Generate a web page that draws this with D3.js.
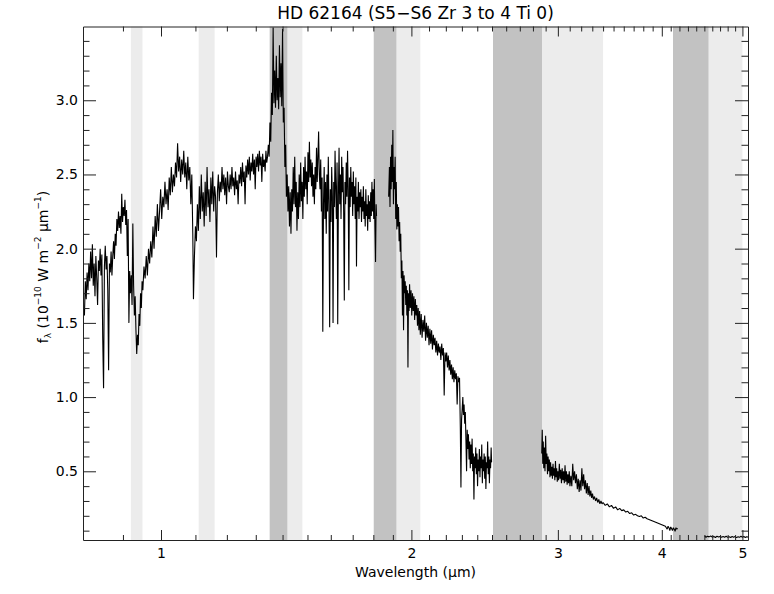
<!DOCTYPE html>
<html>
<head>
<meta charset="utf-8">
<script src="https://cdn.jsdelivr.net/npm/d3@7"></script>
<style>
  body { margin: 0; background: #fff; }
  svg { font-family: "DejaVu Sans", sans-serif; }
</style>
</head>
<body>
<svg id="chart" width="774" height="594"></svg>
<script>
// chart text and ticks
const title = "HD 62164 (S5\u2212S6 Zr 3 to 4 Ti 0)";
const xMajor = [1, 2, 3, 4, 5];
const xMinor = [0.9, 1.1, 1.2, 1.3, 1.4, 1.5, 1.6, 1.7, 1.8, 1.9,
  2.1, 2.2, 2.3, 2.4, 2.5, 2.6, 2.7, 2.8, 2.9,
  3.1, 3.2, 3.3, 3.4, 3.5, 3.6, 3.7, 3.8, 3.9,
  4.1, 4.2, 4.3, 4.4, 4.5, 4.6, 4.7, 4.8, 4.9];
const yMajor = [0.5, 1.0, 1.5, 2.0, 2.5, 3.0];
const yMinor = [0.1, 0.2, 0.3, 0.4, 0.6, 0.7, 0.8, 0.9, 1.1, 1.2, 1.3, 1.4,
  1.6, 1.7, 1.8, 1.9, 2.1, 2.2, 2.3, 2.4, 2.6, 2.7, 2.8, 2.9, 3.1, 3.2, 3.3, 3.4];

// telluric bands (microns)
const darkBands = [[1.351, 1.419], [1.802, 1.919], [2.507, 2.871], [4.126, 4.553]];
const lightBands = [[0.920, 0.950], [1.110, 1.160], [1.419, 1.479], [1.919, 2.050], [2.871, 3.400], [4.553, 5.000]];

// spectrum segments [wavelength um, flux 1e-10 W m-2 um-1]
const specIZJ = [
  [0.806,1.62],[0.809,1.55],[0.811,1.78],[0.813,1.66],[0.815,1.84],[0.817,1.72],[0.819,1.90],[0.821,1.78],
  [0.823,1.98],[0.825,1.80],[0.827,2.03],[0.829,1.75],[0.831,1.90],[0.833,1.68],[0.835,1.95],[0.837,1.80],
  [0.839,1.62],[0.841,1.92],[0.843,1.85],[0.845,2.00],[0.847,1.82],[0.849,1.96],[0.851,1.40],[0.853,1.06],
  [0.855,1.88],[0.857,2.02],[0.859,1.86],[0.861,1.95],[0.863,1.72],[0.865,1.18],[0.867,1.90],[0.869,1.84],
  [0.871,1.98],[0.873,1.82],[0.875,1.95],[0.877,2.05],[0.879,1.93],[0.881,2.10],[0.883,2.02],[0.885,2.20],
  [0.887,2.12],[0.889,2.25],[0.891,2.14],[0.893,2.22],[0.895,2.10],[0.897,2.37],[0.899,2.18],[0.901,2.28],
  [0.903,2.22],[0.905,2.33],[0.907,2.16],[0.909,2.26],[0.911,1.95],[0.913,2.20],[0.915,1.50],[0.917,1.85],
  [0.919,1.70],[0.921,1.82],[0.923,1.62],[0.925,2.17],[0.927,1.75],[0.929,1.55],[0.931,1.68],[0.933,1.45],
  [0.935,1.29],[0.937,1.42],[0.939,1.35],[0.941,1.56],[0.943,1.48],[0.945,1.70],[0.947,1.60],[0.949,1.78],
  [0.951,1.72],[0.954,1.88],[0.957,1.80],[0.960,1.95],[0.963,1.82],[0.966,2.00],[0.969,1.90],[0.972,2.05],
  [0.975,1.94],[0.978,2.15],[0.981,2.00],[0.984,2.22],[0.987,2.08],[0.990,2.30],[0.993,2.12],[0.996,2.25],
  [0.999,2.40],[1.002,2.20],[1.005,2.35],[1.008,2.28],[1.011,2.45],[1.014,2.30],[1.017,2.40],[1.020,2.26],
  [1.023,2.48],[1.026,2.36],[1.029,2.55],[1.032,2.38],[1.035,2.50],[1.038,2.42],[1.041,2.58],[1.044,2.48],
  [1.047,2.71],[1.050,2.52],[1.053,2.62],[1.056,2.45],[1.059,2.60],[1.062,2.50],[1.065,2.66],[1.068,2.48],
  [1.071,2.58],[1.074,2.40],[1.077,2.62],[1.080,2.46],[1.083,2.55],[1.086,2.30],[1.089,2.50],[1.092,2.10],
  [1.094,1.66],[1.097,1.95],[1.100,2.15],[1.103,2.05],[1.106,2.30],[1.109,2.12],[1.112,2.42],[1.115,2.20],
  [1.118,2.50],[1.121,2.25],[1.124,2.38],[1.127,2.15],[1.130,2.45],[1.133,2.22],[1.136,2.55],[1.139,2.28],
  [1.142,2.40],[1.145,2.18],[1.148,2.48],[1.151,2.30],[1.154,2.52],[1.157,2.25],[1.160,2.42],[1.163,2.35],
  [1.166,1.94],[1.169,2.38],[1.172,2.50],[1.175,2.32],[1.178,2.45],[1.181,2.38],[1.184,2.55],[1.187,2.40],
  [1.190,2.50],[1.193,2.36],[1.196,2.48],[1.199,2.30],[1.202,2.52],[1.205,2.42],[1.208,2.38],[1.211,2.50],
  [1.214,2.40],[1.217,2.55],[1.220,2.42],[1.223,2.48],[1.226,2.36],[1.229,2.52],[1.232,2.40],[1.235,2.46],
  [1.238,2.30],[1.241,2.50],[1.244,2.44],[1.247,2.55],[1.250,2.42],[1.253,2.58],[1.256,2.45],[1.259,2.52],
  [1.262,2.30],[1.265,2.56],[1.268,2.48],[1.271,2.60],[1.274,2.50],[1.277,2.62],[1.280,2.46],[1.283,2.58],
  [1.286,2.52],[1.289,2.64],[1.292,2.50],[1.295,2.60],[1.298,2.40],[1.301,2.62],[1.304,2.55],[1.307,2.64],
  [1.310,2.52],[1.313,2.66],[1.316,2.56],[1.319,2.62],[1.322,2.45],[1.325,2.64],[1.328,2.55],[1.331,2.60],
  [1.334,2.52],[1.337,2.66],[1.340,2.58],[1.343,2.62],
  [1.346,2.70],[1.349,2.62],[1.352,2.85],[1.355,2.72],[1.358,3.05],[1.361,2.90],[1.364,3.49],[1.367,2.98],
  [1.370,3.20],[1.373,2.95],[1.376,3.30],[1.379,3.00],[1.382,3.15],[1.385,2.94],[1.388,3.37],[1.391,3.02],
  [1.394,3.25],[1.397,2.96],[1.400,3.48],[1.403,2.85],[1.406,2.95],[1.409,2.55],[1.412,2.70],[1.415,2.35],
  [1.418,2.50],[1.421,2.25],[1.424,2.42],[1.427,2.15],[1.430,2.38],[1.433,2.10],[1.436,2.40],[1.439,2.25],
  [1.442,2.55],[1.445,2.30],[1.448,2.62],[1.451,2.28],[1.454,2.45],[1.457,2.12],[1.460,2.38],[1.463,2.20],
  [1.466,2.50],[1.469,2.28],[1.472,2.58],[1.475,2.32],[1.478,2.45],[1.481,2.20],[1.484,2.55],[1.487,2.35],
  [1.490,2.62],[1.493,2.40],[1.496,2.52],[1.499,2.30],[1.502,2.65],[1.505,2.45],[1.508,2.72],[1.511,2.48],
  [1.514,2.60],[1.517,2.42],[1.520,2.58],[1.523,2.35],[1.526,2.50],[1.529,2.30],[1.532,2.55],[1.535,2.40],
  [1.538,2.68],[1.541,2.45],[1.544,2.62],[1.547,2.79],[1.550,2.50],[1.553,2.40],[1.556,2.60],[1.559,2.25],
  [1.562,2.48],[1.565,1.44],[1.568,2.30],[1.571,2.55],[1.574,2.20],[1.577,2.45],[1.580,2.10],[1.583,2.50],
  [1.586,2.25],[1.589,2.62],[1.592,2.30],[1.595,1.47],[1.598,2.40],[1.601,2.18],[1.604,2.55],[1.607,2.35],
  [1.610,1.50],[1.613,2.45],[1.616,2.28],[1.619,2.66],[1.622,2.40],[1.625,2.20],[1.628,2.58],[1.631,1.49],
  [1.634,2.35],[1.637,2.68],[1.640,2.30],[1.643,2.50],[1.646,2.20],[1.649,2.62],[1.652,2.38],[1.655,2.55],
  [1.658,2.25],[1.661,1.65],[1.664,2.45],[1.667,2.30],[1.670,2.58],[1.673,2.35],[1.676,2.66],[1.679,2.40],
  [1.682,1.72],[1.685,2.48],[1.688,2.28],[1.691,2.55],[1.694,2.35],[1.697,2.45],[1.700,2.22],[1.703,2.52],
  [1.706,2.30],[1.709,2.42],[1.712,2.20],[1.715,2.48],[1.718,1.88],[1.721,2.35],[1.724,2.25],[1.727,2.45],
  [1.730,2.20],[1.733,2.38],[1.736,2.28],[1.739,2.40],[1.742,2.18],[1.745,2.35],[1.748,2.25],[1.751,2.42],
  [1.754,2.20],[1.757,2.32],[1.760,2.15],[1.763,2.40],[1.766,2.22],[1.769,2.30],[1.772,2.12],[1.775,2.36],
  [1.778,2.20],[1.781,2.32],[1.784,2.18],[1.787,2.38],[1.790,2.22],[1.793,2.45],[1.796,2.25],[1.799,2.40],
  [1.802,2.20],[1.805,2.47],[1.808,2.15],[1.811,1.91],[1.814,2.30],[1.816,2.22]
];

const specK = [
  [1.878,2.35],[1.882,2.55],[1.885,2.28],[1.888,2.62],[1.891,2.40],[1.894,2.70],[1.897,2.45],[1.900,2.80],
  [1.903,2.30],[1.906,2.55],[1.909,2.40],[1.912,2.62],[1.915,2.20],[1.918,2.45],[1.921,2.13],[1.924,2.30],
  [1.927,2.15],[1.930,2.28],[1.933,2.05],[1.936,2.18],[1.939,1.98],[1.942,2.10],[1.945,1.80],[1.948,1.92],
  [1.951,1.55],[1.954,1.85],[1.957,1.45],[1.960,1.82],[1.963,1.70],[1.966,1.78],[1.969,1.62],[1.972,1.75],
  [1.975,1.55],[1.978,1.72],[1.981,1.20],[1.984,1.70],[1.987,1.58],[1.990,1.76],[1.994,1.60],[1.998,1.72],
  [2.002,1.55],[2.006,1.70],[2.010,1.58],[2.014,1.68],[2.018,1.52],[2.022,1.66],[2.026,1.55],[2.030,1.62],
  [2.034,1.48],[2.038,1.60],[2.042,1.45],[2.046,1.58],[2.050,1.42],[2.055,1.56],[2.060,1.40],[2.065,1.52],
  [2.070,1.44],[2.075,1.55],[2.080,1.38],[2.085,1.50],[2.090,1.40],[2.095,1.48],[2.100,1.35],[2.105,1.46],
  [2.110,1.36],[2.115,1.45],[2.120,1.32],[2.125,1.42],[2.130,1.35],[2.135,1.40],[2.140,1.30],[2.145,1.38],
  [2.150,1.28],[2.155,1.36],[2.160,1.30],[2.165,1.34],[2.170,1.25],[2.175,1.36],[2.180,1.28],[2.185,1.33],
  [2.190,1.01],[2.195,1.30],[2.200,1.24],[2.205,1.30],[2.210,1.20],[2.215,1.28],[2.220,1.18],[2.225,1.25],
  [2.230,1.15],[2.235,1.22],[2.240,1.12],[2.245,1.20],[2.250,1.10],[2.255,1.18],[2.260,1.12],[2.265,1.16],
  [2.270,0.95],[2.275,1.14],[2.280,1.10],[2.285,1.13],[2.290,0.80],[2.294,0.39],[2.298,0.85],[2.302,0.92],
  [2.306,1.00],[2.310,0.88],[2.314,0.95],[2.318,0.82],[2.322,0.90],[2.326,0.70],[2.330,0.50],[2.334,0.78],
  [2.338,0.65],[2.342,0.75],[2.346,0.58],[2.350,0.70],[2.354,0.52],[2.358,0.68],[2.362,0.55],[2.366,0.72],
  [2.370,0.50],[2.374,0.62],[2.378,0.31],[2.382,0.60],[2.386,0.52],[2.390,0.66],[2.394,0.48],[2.398,0.62],
  [2.402,0.40],[2.406,0.58],[2.410,0.50],[2.414,0.65],[2.418,0.46],[2.422,0.60],[2.426,0.52],[2.430,0.68],
  [2.434,0.42],[2.438,0.58],[2.442,0.50],[2.446,0.62],[2.450,0.45],[2.454,0.60],[2.458,0.38],[2.462,0.56],
  [2.466,0.52],[2.470,0.70],[2.474,0.48],[2.478,0.60],[2.482,0.42],[2.486,0.58],[2.490,0.52],[2.494,0.66],
  [2.497,0.56]
];

const specL = [
  [2.869,0.62],[2.873,0.78],[2.877,0.55],[2.881,0.70],[2.885,0.52],[2.890,0.66],[2.895,0.50],[2.900,0.74],
  [2.905,0.55],[2.910,0.62],[2.915,0.48],[2.920,0.60],[2.925,0.50],[2.930,0.58],[2.935,0.46],[2.940,0.56],
  [2.945,0.47],[2.950,0.53],[2.955,0.45],[2.960,0.55],[2.965,0.47],[2.970,0.52],[2.975,0.44],[2.980,0.57],
  [2.985,0.46],[2.990,0.52],[2.995,0.43],[3.000,0.50],[3.006,0.44],[3.012,0.55],[3.018,0.45],[3.024,0.51],
  [3.030,0.42],[3.036,0.52],[3.042,0.44],[3.048,0.50],[3.054,0.42],[3.060,0.54],[3.066,0.43],[3.072,0.50],
  [3.078,0.41],[3.084,0.48],[3.090,0.42],[3.096,0.50],[3.102,0.40],[3.110,0.47],[3.118,0.40],[3.126,0.55],
  [3.134,0.44],[3.142,0.50],[3.150,0.42],[3.158,0.48],[3.166,0.38],[3.174,0.45],[3.182,0.36],[3.190,0.44],
  [3.198,0.37],[3.206,0.52],[3.214,0.40],[3.222,0.48],[3.230,0.38],[3.238,0.44],[3.246,0.35],[3.254,0.42],
  [3.262,0.34],[3.270,0.40],[3.278,0.33],[3.286,0.37],[3.294,0.32],[3.302,0.35],[3.310,0.31],[3.320,0.33],
  [3.330,0.30],[3.340,0.32],[3.350,0.29],[3.360,0.31],[3.370,0.28],[3.380,0.30],[3.390,0.28],[3.400,0.29],
  [3.420,0.27],[3.440,0.28],[3.460,0.26],[3.480,0.27],[3.500,0.25],[3.520,0.26],[3.540,0.24],[3.560,0.25],
  [3.580,0.235],[3.600,0.24],[3.620,0.225],[3.640,0.23],[3.660,0.215],[3.680,0.22],[3.700,0.205],[3.720,0.21],
  [3.740,0.20],[3.760,0.195],[3.780,0.20],[3.800,0.185],[3.820,0.19],[3.840,0.18],[3.860,0.175],[3.880,0.17],
  [3.900,0.165],[3.920,0.16],[3.940,0.155],[3.960,0.15],[3.980,0.145],[4.000,0.14],[4.020,0.135],[4.040,0.13],
  [4.060,0.11],[4.070,0.13],[4.080,0.12],[4.090,0.10],[4.100,0.125],[4.110,0.115],[4.120,0.10],[4.130,0.12],
  [4.140,0.11],[4.150,0.095],[4.160,0.12],[4.170,0.11],[4.180,0.115]
];

const specM = [
  [4.505,0.065],[4.52,0.055],[4.54,0.062],[4.56,0.058],[4.58,0.064],[4.60,0.056],[4.62,0.060],[4.64,0.054],
  [4.66,0.062],[4.68,0.057],[4.70,0.061],[4.72,0.055],[4.74,0.060],[4.76,0.056],[4.78,0.062],[4.80,0.055],
  [4.82,0.059],[4.84,0.054],[4.86,0.061],[4.88,0.056],[4.90,0.060],[4.92,0.053],[4.94,0.059],[4.96,0.055],
  [4.98,0.062],[5.00,0.056],[5.02,0.060],[5.04,0.054],[5.06,0.059],[5.08,0.057]
];

const segments = [specIZJ, specK, specL, specM];

const svg = d3.select("#chart");
const plotLeft = 83, plotRight = 748, plotTop = 26.5, plotBottom = 540;

const x = d3.scaleLog().domain([0.8058, 5.078]).range([plotLeft, plotRight]);
const y = d3.scaleLinear().domain([0.037, 3.497]).range([plotBottom, plotTop]);

svg.append("defs").append("clipPath").attr("id", "plotclip")
  .append("rect")
  .attr("x", plotLeft).attr("y", plotTop)
  .attr("width", plotRight - plotLeft).attr("height", plotBottom - plotTop);

// shaded bands
const bandG = svg.append("g");
bandG.selectAll("rect.light")
  .data(lightBands)
  .join("rect")
  .attr("class", "light")
  .attr("x", d => x(d[0]))
  .attr("width", d => x(d[1]) - x(d[0]))
  .attr("y", plotTop)
  .attr("height", plotBottom - plotTop)
  .attr("fill", "#ececec");
bandG.selectAll("rect.dark")
  .data(darkBands)
  .join("rect")
  .attr("class", "dark")
  .attr("x", d => x(d[0]))
  .attr("width", d => x(d[1]) - x(d[0]))
  .attr("y", plotTop)
  .attr("height", plotBottom - plotTop)
  .attr("fill", "#c2c2c2");

// spectrum
const line = d3.line()
  .x(d => x(d[0]))
  .y(d => y(d[1]));

svg.append("g")
  .attr("clip-path", "url(#plotclip)")
  .selectAll("path")
  .data(segments)
  .join("path")
  .attr("d", line)
  .attr("fill", "none")
  .attr("stroke", "#000")
  .attr("stroke-width", 1.1)
  .attr("stroke-linejoin", "bevel");

// axes, IDL style: ticks point inward on all four sides
function styleAxis(g) {
  g.selectAll("path.domain").attr("stroke", "#222");
  g.selectAll(".tick line").attr("stroke", "#222");
  g.selectAll("text")
    .attr("fill", "#000")
    .attr("font-family", "DejaVu Sans, sans-serif")
    .attr("font-size", "14px");
}

svg.append("g")
  .attr("transform", `translate(0,${plotBottom})`)
  .call(d3.axisBottom(x).tickValues(xMajor).tickSize(-10).tickSizeOuter(0)
    .tickPadding(8).tickFormat(d3.format("d")))
  .call(styleAxis);
svg.append("g")
  .attr("transform", `translate(0,${plotBottom})`)
  .call(d3.axisBottom(x).tickValues(xMinor).tickSize(-5).tickFormat(""))
  .call(g => g.select(".domain").remove())
  .call(styleAxis);

svg.append("g")
  .attr("transform", `translate(0,${plotTop})`)
  .call(d3.axisTop(x).tickValues(xMajor).tickSize(-10).tickSizeOuter(0).tickFormat(""))
  .call(styleAxis);
svg.append("g")
  .attr("transform", `translate(0,${plotTop})`)
  .call(d3.axisTop(x).tickValues(xMinor).tickSize(-5).tickFormat(""))
  .call(g => g.select(".domain").remove())
  .call(styleAxis);

svg.append("g")
  .attr("transform", `translate(${plotLeft},0)`)
  .call(d3.axisLeft(y).tickValues(yMajor).tickSize(-13).tickSizeOuter(0)
    .tickPadding(5).tickFormat(d3.format(".1f")))
  .call(styleAxis);
svg.append("g")
  .attr("transform", `translate(${plotLeft},0)`)
  .call(d3.axisLeft(y).tickValues(yMinor).tickSize(-6.5).tickFormat(""))
  .call(g => g.select(".domain").remove())
  .call(styleAxis);

svg.append("g")
  .attr("transform", `translate(${plotRight},0)`)
  .call(d3.axisRight(y).tickValues(yMajor).tickSize(-13).tickSizeOuter(0).tickFormat(""))
  .call(styleAxis);
svg.append("g")
  .attr("transform", `translate(${plotRight},0)`)
  .call(d3.axisRight(y).tickValues(yMinor).tickSize(-6.5).tickFormat(""))
  .call(g => g.select(".domain").remove())
  .call(styleAxis);

// titles
svg.append("text")
  .attr("x", (plotLeft + plotRight) / 2)
  .attr("y", 19)
  .attr("text-anchor", "middle")
  .attr("font-size", "17px")
  .text(title);

svg.append("text")
  .attr("x", (plotLeft + plotRight) / 2)
  .attr("y", 577)
  .attr("text-anchor", "middle")
  .attr("font-size", "14px")
  .text("Wavelength (\u00b5m)");

const yl = svg.append("text")
  .attr("transform", "translate(48,267) rotate(-90)")
  .attr("text-anchor", "middle")
  .attr("font-size", "14px");
yl.append("tspan").text("f");
yl.append("tspan").attr("font-size", "9px").attr("dy", 3).text("\u03bb");
yl.append("tspan").attr("dy", -3).text(" (10");
yl.append("tspan").attr("font-size", "9px").attr("dy", -7).text("\u221210");
yl.append("tspan").attr("dy", 7).text(" W m");
yl.append("tspan").attr("font-size", "9px").attr("dy", -7).text("\u22122");
yl.append("tspan").attr("dy", 7).text(" \u00b5m");
yl.append("tspan").attr("font-size", "9px").attr("dy", -7).text("\u22121");
yl.append("tspan").attr("dy", 7).text(")");
</script>
</body>
</html>
